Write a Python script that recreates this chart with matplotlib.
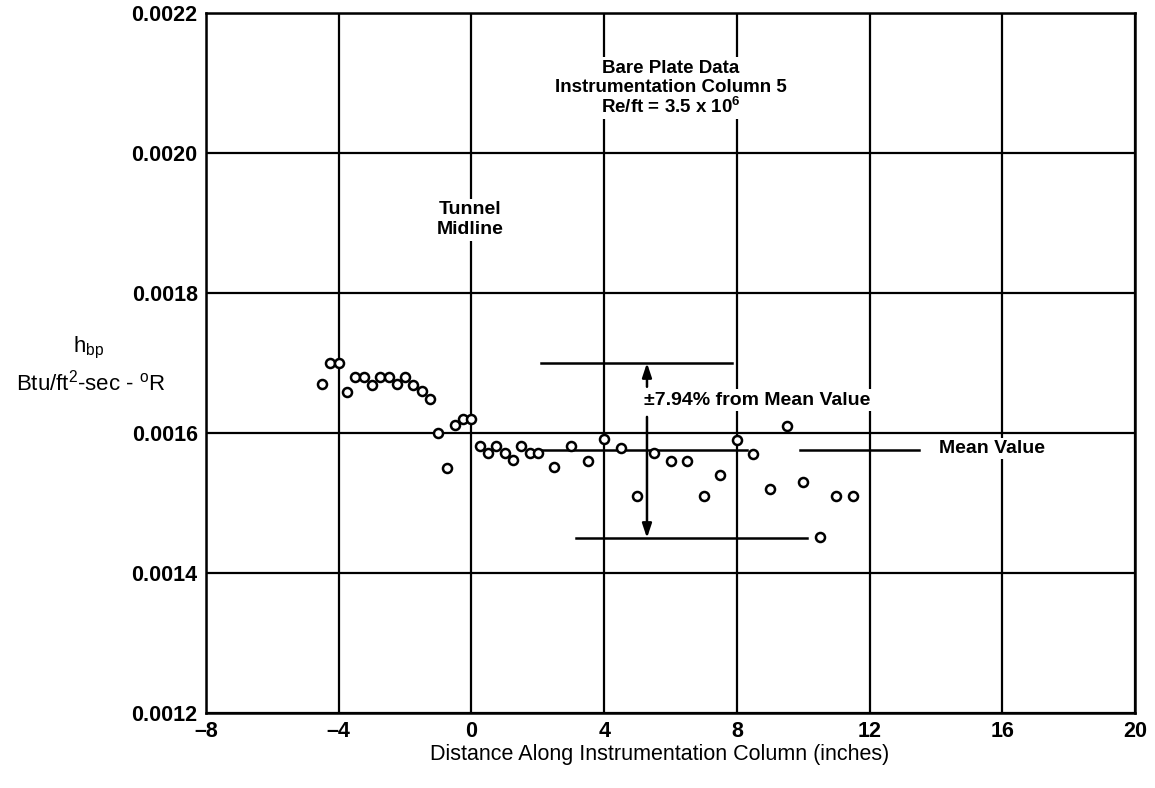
import numpy as np
from matplotlib import pyplot as plt

plt.rcParams['font.family'] = ['Liberation Sans', 'DejaVu Sans']
plt.rcParams['mathtext.default'] = 'regular'

# data
dist = [-4.5, -4.25, -4.0, -3.75, -3.5, -3.25, -3.0, -2.75, -2.5, -2.25, -2.0,
        -1.75, -1.5, -1.25, -1.0, -0.75, -0.5, -0.25, 0.0, 0.25, 0.5, 0.75,
        1.0, 1.25, 1.5, 1.75, 2.0, 2.5, 3.0, 3.5, 4.0, 4.5, 5.0, 5.5, 6.0,
        6.5, 7.0, 7.5, 8.0, 8.5, 9.0, 9.5, 10.0, 10.5, 11.0, 11.5]
h_bp = [0.00167, 0.00170, 0.00170, 0.001659, 0.00168, 0.00168, 0.001669,
        0.00168, 0.00168, 0.00167, 0.00168, 0.001669, 0.00166, 0.001649,
        0.00160, 0.00155, 0.001611, 0.00162, 0.00162, 0.001581, 0.001572,
        0.001582, 0.001571, 0.001561, 0.001581, 0.001571, 0.001571,
        0.001552, 0.001581, 0.00156, 0.001591, 0.001579, 0.00151, 0.001571,
        0.00156, 0.00156, 0.00151, 0.00154, 0.00159, 0.00157, 0.00152,
        0.00161, 0.00153, 0.001451, 0.00151, 0.00151]
mean_val = 0.001575
upper_val = 0.00170
lower_val = 0.00145
x_ticks = [-8, -4, 0, 4, 8, 12, 16, 20]
y_ticks = [0.0012, 0.0014, 0.0016, 0.0018, 0.0020, 0.0022]
info_lines = ['Bare Plate Data', 'Instrumentation Column 5', 'Re/ft = 3.5 x 10$^{6}$']

fig = plt.figure(figsize=(11.55, 7.88), dpi=100)
ax = fig.add_axes([0.1784, 0.0952, 0.8043, 0.8883])

ax.set_xlim(-8, 20)
ax.set_ylim(0.0012, 0.0022)
ax.set_xticks(x_ticks)
ax.set_yticks(y_ticks)
ax.set_xticklabels([str(t).replace('-', '\u2013') for t in x_ticks], fontsize=15.5, fontweight='bold')
ax.set_yticklabels(['%.4f' % t for t in y_ticks], fontsize=15.5, fontweight='bold')
ax.tick_params(length=0, pad=6)
ax.grid(True, color='black', linewidth=1.6, zorder=1)
ax.set_axisbelow(True)
for s in ax.spines.values():
    s.set_linewidth(1.8)

# mean line and band
ax.plot([2.1, 8.3], [mean_val, mean_val], color='black', lw=1.8, zorder=2)
ax.plot([9.9, 13.5], [mean_val, mean_val], color='black', lw=1.8, zorder=2)
ax.plot([2.1, 7.85], [upper_val, upper_val], color='black', lw=1.8, zorder=2)
ax.plot([3.15, 10.1], [lower_val, lower_val], color='black', lw=1.8, zorder=2)

ax.annotate('', xy=(5.29, upper_val), xytext=(5.29, 0.001666),
            arrowprops=dict(arrowstyle='-|>,head_length=0.6,head_width=0.2', color='black',
                            lw=1.8, mutation_scale=14, shrinkA=0, shrinkB=0), zorder=4)
ax.annotate('', xy=(5.29, lower_val), xytext=(5.29, 0.001623),
            arrowprops=dict(arrowstyle='-|>,head_length=0.6,head_width=0.2', color='black',
                            lw=1.8, mutation_scale=14, shrinkA=0, shrinkB=0), zorder=4)

ax.plot(dist, h_bp, 'o', markerfacecolor='white', markeredgecolor='black',
        markersize=6.5, markeredgewidth=1.8, zorder=5)

wb = dict(facecolor='white', edgecolor='none', pad=1.5)
ax.text(5.2, 0.001647, '\u00b17.94% from Mean Value', fontsize=14, fontweight='bold',
        ha='left', va='center', bbox=wb, zorder=3)
ax.text(14.1, 0.001578, 'Mean Value', fontsize=14, fontweight='bold',
        ha='left', va='center', bbox=wb, zorder=3)
for line, yv in zip(info_lines, [0.0021214, 0.0020929, 0.0020657]):
    ax.text(6.0, yv, line, fontsize=13.5, fontweight='bold', ha='center', va='center',
            bbox=wb, zorder=3)
ax.text(-0.05, 0.0019186, 'Tunnel', fontsize=14, fontweight='bold',
        ha='center', va='center', bbox=wb, zorder=3)
ax.text(-0.05, 0.00189, 'Midline', fontsize=14, fontweight='bold',
        ha='center', va='center', bbox=wb, zorder=3)

ax.set_xlabel('Distance Along Instrumentation Column (inches)', fontsize=15.5, labelpad=4)
ax.xaxis.set_label_coords(0.488, -0.045)

fig.text(0.077, 0.558, 'h$_{bp}$', fontsize=16, ha='center', va='center')
fig.text(0.079, 0.514, 'Btu/ft$^{2}$-sec - $^{o}$R', fontsize=16, ha='center', va='center')

plt.savefig('out.png', dpi=100)
